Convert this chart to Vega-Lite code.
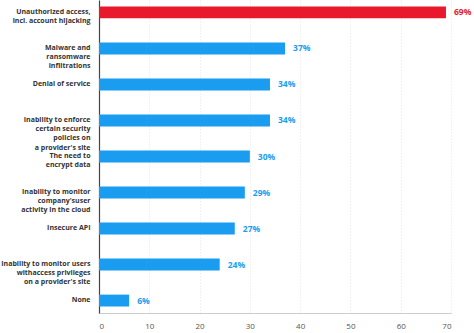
{
  "$schema": "https://vega.github.io/schema/vega-lite/v6.json",
  "width": 352,
  "height": 313,
  "autosize": {"type": "none"},
  "padding": {"left": 99, "top": 0, "right": 23, "bottom": 20},
  "background": "white",
  "config": {"view": {"stroke": null}, "font": "Open Sans"},
  "data": {
    "values": [
      {"cat": "Unauthorized access,|incl. account hijacking", "value": 69, "label": "69%", "hl": "yes"},
      {"cat": "Malware and|ransomware|infiltrations", "value": 37, "label": "37%", "hl": "no"},
      {"cat": "Denial of service", "value": 34, "label": "34%", "hl": "no"},
      {"cat": "Inability to enforce|certain security|policies on|a provider's site", "value": 34, "label": "34%", "hl": "no"},
      {"cat": "The need to|encrypt data", "value": 30, "label": "30%", "hl": "no"},
      {"cat": "Inability to monitor|company'suser|activity in the cloud", "value": 29, "label": "29%", "hl": "no"},
      {"cat": "Insecure API", "value": 27, "label": "27%", "hl": "no"},
      {"cat": "Inability to monitor users|withaccess privileges|on a provider's site", "value": 24, "label": "24%", "hl": "no"},
      {"cat": "None", "value": 6, "label": "6%", "hl": "no"}
    ]
  },
  "encoding": {
    "y": {
      "field": "cat",
      "type": "nominal",
      "sort": null,
      "scale": {"paddingInner": 0.67, "paddingOuter": 0.18},
      "axis": {
        "title": null,
        "ticks": false,
        "labelExpr": "split(datum.label, '|')",
        "labelBaseline": "top",
        "labelOffset": -4.5,
        "labelPadding": 9,
        "labelFontSize": 7,
        "labelFontWeight": "bold",
        "labelColor": "#333333",
        "labelLineHeight": 9.2,
        "labelLimit": 200,
        "domainColor": "#444444",
        "domainWidth": 1.2
      }
    },
    "x": {
      "field": "value",
      "type": "quantitative",
      "scale": {"domain": [0, 70], "nice": false},
      "axis": {
        "title": null,
        "values": [0, 10, 20, 30, 40, 50, 60, 70],
        "ticks": false,
        "labelPadding": 9,
        "labelFontSize": 8,
        "labelColor": "#555555",
        "domainColor": "#cccccc",
        "gridColor": "#dddddd",
        "gridDash": [1, 2],
        "gridWidth": 0.8
      }
    }
  },
  "layer": [
    {
      "mark": {"type": "bar"},
      "encoding": {
        "color": {
          "field": "hl",
          "type": "nominal",
          "scale": {"domain": ["yes", "no"], "range": ["#e8192c", "#1a9cf0"]},
          "legend": null
        }
      }
    },
    {
      "mark": {"type": "text", "align": "left", "dx": 8, "fontWeight": "bold", "fontSize": 8.5},
      "encoding": {
        "text": {"field": "label", "type": "nominal"},
        "color": {
          "field": "hl",
          "type": "nominal",
          "scale": {"domain": ["yes", "no"], "range": ["#e0242f", "#2f6fb8"]},
          "legend": null
        }
      }
    }
  ]
}
